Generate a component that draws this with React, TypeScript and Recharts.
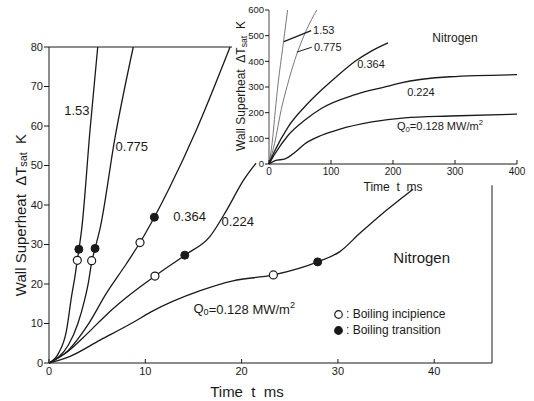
import React from 'react';
import { ComposedChart, Line, Scatter, XAxis, YAxis, ReferenceLine, ReferenceDot, Legend } from 'recharts';

const FONT = '"Liberation Sans", Arial, sans-serif';
const INK = '#1a1a1a';

// main plot: wall superheat (K) against time (ms), one curve per heat flux Q0 (MW/m2)
const main153 = [[0, 0], [1, 2.5], [1.8, 8], [2.35, 17], [2.7, 22], [2.94, 26], [3.1, 28.6], [3.4, 34], [4.26, 59], [5.06, 80]];
const main775 = [[0, 0], [1, 1.5], [2, 4.5], [3, 10], [3.7, 16], [4.1, 20.5], [4.43, 25.5], [4.78, 29], [5.3, 34], [6.85, 57], [8.75, 80]];
const main364 = [[0, 0], [2, 3.2], [4, 9.5], [6, 17.8], [8, 25], [9.45, 30.5], [10.94, 36.9], [12.56, 44.6], [15.3, 59], [18.8, 80]];
const main224 = [[0, 0], [2, 3], [4, 7.5], [6, 12.3], [8, 16.5], [11, 22], [14.1, 27.3], [16.7, 32], [18.45, 38.7], [20.2, 46.3], [21.5, 50.6]];
const main128 = [[0, 0], [2, 1.5], [5.3, 5.8], [8.9, 10.5], [10.5, 12.8], [15.7, 18.3], [19.1, 20.8], [23.3, 22.3], [27.9, 25.6], [30.2, 28.2], [32.3, 32.9], [34.7, 38], [36.4, 41.3], [37.8, 44]];

const incipience = [[2.94, 26], [4.43, 25.9], [9.45, 30.5], [11, 22], [23.3, 22.3]];
const transition = [[3.1, 28.8], [4.78, 29], [10.94, 36.9], [14.1, 27.3], [27.9, 25.6]];

const mainXTicks = [0, 10, 20, 30, 40];
const mainYTicks = [0, 10, 20, 30, 40, 50, 60, 70, 80];

// inset: same runs over a longer time
const inset153 = [[0, 0], [5, 80], [10, 205], [15, 320], [22, 450], [30, 600]];
const inset775 = [[0, 0], [9, 80], [20, 215], [30, 310], [42, 408], [60, 520], [77, 600]];
const inset364 = [[0, 0], [9.7, 53], [31, 145], [58, 224], [85, 289], [112, 347], [139, 400], [165, 440], [192, 472]];
const inset224 = [[0, 0], [9.7, 40], [31, 112], [58, 171], [85, 217], [139, 270], [192, 303], [211, 315], [292, 340], [400, 348]];
const inset128 = [[0, 0], [9.7, 13], [26, 20], [42, 46], [58, 79], [85, 112], [112, 134], [166, 164], [219, 180], [292, 187], [400, 194]];

const insetXTicks = [0, 100, 200, 300, 400];
const insetYTicks = [0, 100, 200, 300, 400, 500, 600];

const keyNames = ['Boiling incipience', 'Boiling transition'];

const pts = (a: number[][]) => a.map(([t, v]) => ({ t, v }));

const BottomTick = ({ x, y, payload, fs }: any) => (
  <g>
    <line x1={x} x2={x} y1={y} y2={y - 4} stroke={INK} />
    <text x={x} y={y + 3} dy="0.8em" textAnchor="middle" fontSize={fs} fill={INK} fontFamily={FONT}>
      {payload.value}
    </text>
  </g>
);

const RightTick = ({ x, y }: any) => <line x1={x - 4} x2={x} y1={y} y2={y} stroke={INK} />;

const YTitle = ({ cx, cy, fs }: any) => (
  <text x={cx} y={cy} transform={`rotate(-90 ${cx} ${cy})`} textAnchor="middle" dominantBaseline="central"
    fontSize={fs} fill={INK} fontFamily={FONT}>
    Wall Superheat{'\u00A0\u00A0'}ΔT<tspan fontSize={fs * 0.72} dy={3}>sat</tspan>
    <tspan dy={-3}>{'\u00A0\u00A0'}K</tspan>
  </text>
);

const XTitle = ({ cx, cy, fs }: any) => (
  <text x={cx} y={cy} textAnchor="middle" dominantBaseline="central" fontSize={fs} fill={INK} fontFamily={FONT}>
    {'Time\u00A0\u00A0t\u00A0\u00A0ms'}
  </text>
);

const note = (content: React.ReactNode, fs: number, anchor = 'middle') => (p: any) => (
  <text x={p.cx} y={p.cy} textAnchor={anchor} dominantBaseline="central" fontSize={fs} fill={INK} fontFamily={FONT}>
    {content}
  </text>
);

const fluxLabel = (fs: number) => (
  <>
    Q<tspan fontSize={fs * 0.7} dy={3}>0</tspan>
    <tspan dy={-3}>=0.128 MW/m</tspan>
    <tspan fontSize={fs * 0.7} dy={-4}>2</tspan>
  </>
);

const BoilingKey = ({ payload }: any) => (
  <div style={{ fontFamily: FONT, fontSize: 12, color: INK, lineHeight: '16px' }}>
    {(payload || []).filter((e: any) => keyNames.includes(e.value)).map((e: any) => (
      <div key={e.value} style={{ display: 'flex', alignItems: 'center' }}>
        <svg width={11} height={11} style={{ marginRight: 2 }}>
          <circle cx={5.5} cy={5.5} r={3.8} fill={e.color} stroke={INK} strokeWidth={1.2} />
        </svg>
        <span>: {e.value}</span>
      </div>
    ))}
  </div>
);

const mainCurves = [main153, main775, main364, main224, main128];
const insetCurves = [inset153, inset775, inset364, inset224, inset128];

export default function App() {
  return (
    <div style={{ position: 'absolute', left: 0, top: 0, width: 534, height: 401, background: '#fff' }}>
      <div style={{ position: 'absolute', left: 0, top: 0 }}>
        <ComposedChart width={534} height={401} margin={{ top: 47, right: 42, bottom: 8, left: 9 }}>
          <XAxis type="number" dataKey="t" domain={[0, 46]} ticks={mainXTicks} height={30}
            tickLine={false} tickSize={0} tickMargin={0} axisLine={{ stroke: INK, strokeWidth: 1.2 }}
            tick={(p: any) => <BottomTick {...p} fs={11} />}
            label={(p: any) => <XTitle cx={247} cy={p.viewBox.y + 28} fs={15} />} />
          <YAxis type="number" dataKey="v" domain={[0, 80]} ticks={mainYTicks} width={40}
            tickSize={5} tickMargin={1} tickLine={{ stroke: INK }} axisLine={{ stroke: INK }}
            tick={{ fontSize: 11, fill: INK, fontFamily: FONT }}
            label={(p: any) => <YTitle cx={p.viewBox.x + 11} cy={215} fs={15} />} />
          <YAxis yAxisId="r" orientation="right" type="number" domain={[0, 80]} ticks={[10, 20, 30, 40]} width={0}
            axisLine={false} tickLine={false} tickSize={0} tickMargin={0} tick={RightTick} />
          <ReferenceLine segment={[{ x: 0, y: 80 }, { x: 19, y: 80 }]} stroke={INK} strokeWidth={1.2} />
          <ReferenceLine segment={[{ x: 46, y: 0 }, { x: 46, y: 45 }]} stroke={INK} />
          {mainCurves.map((c, i) => (
            <Line key={i} data={pts(c)} dataKey="v" type="monotone" dot={false} stroke={INK}
              strokeWidth={1.3} legendType="none" isAnimationActive={false} />
          ))}
          <Scatter name="Boiling incipience" data={pts(incipience)} fill="#fff" isAnimationActive={false}
            shape={(p: any) => <circle cx={p.cx} cy={p.cy} r={4} fill="#fff" stroke={INK} strokeWidth={1.2} />} />
          <Scatter name="Boiling transition" data={pts(transition)} fill={INK} isAnimationActive={false}
            shape={(p: any) => <circle cx={p.cx} cy={p.cy} r={4} fill={INK} stroke={INK} strokeWidth={1} />} />
          <ReferenceDot x={2.9} y={64} shape={note('1.53', 13)} />
          <ReferenceDot x={8.6} y={54.7} shape={note('0.775', 13)} />
          <ReferenceDot x={14.6} y={37} shape={note('0.364', 13)} />
          <ReferenceDot x={19.6} y={35.7} shape={note('0.224', 13)} />
          <ReferenceDot x={15} y={13.7} shape={note(fluxLabel(13), 13, 'start')} />
          <ReferenceDot x={38.7} y={26.6} shape={note('Nitrogen', 15)} />
          <Legend layout="vertical" align="center" verticalAlign="middle" content={BoilingKey}
            wrapperStyle={{ left: 333, top: 306, width: 170, height: 34 }} />
        </ComposedChart>
      </div>

      <div style={{ position: 'absolute', left: 0, top: 0 }}>
        <ComposedChart width={534} height={200} margin={{ top: 10, right: 17, bottom: 10, left: 239 }}>
          <XAxis type="number" dataKey="t" domain={[0, 400]} ticks={insetXTicks} height={26}
            tickLine={false} tickSize={0} tickMargin={0} axisLine={{ stroke: INK }}
            tick={(p: any) => <BottomTick {...p} fs={10} />}
            label={(p: any) => <XTitle cx={p.viewBox.x + p.viewBox.width / 2} cy={p.viewBox.y + 23} fs={12} />} />
          <XAxis xAxisId="top" orientation="top" type="number" domain={[0, 400]} height={0}
            tick={false} tickLine={false} axisLine={{ stroke: INK }} />
          <YAxis type="number" dataKey="v" domain={[0, 600]} ticks={insetYTicks} width={30}
            tickSize={4} tickMargin={1} tickLine={{ stroke: INK }} axisLine={{ stroke: INK, strokeWidth: 0.8 }}
            tick={{ fontSize: 9.5, fill: INK, fontFamily: FONT }}
            label={(p: any) => <YTitle cx={p.viewBox.x + 2} cy={86} fs={12} />} />
          <YAxis yAxisId="r" orientation="right" type="number" domain={[0, 600]} ticks={[100, 200, 300, 400, 500]} width={0}
            axisLine={{ stroke: INK }} tickLine={false} tickSize={0} tickMargin={0} tick={RightTick} />
          {insetCurves.map((c, i) => (
            <Line key={i} data={pts(c)} dataKey="v" type="monotone" dot={false} stroke={i < 2 ? '#555' : INK}
              strokeWidth={i < 2 ? 0.8 : 1.3} isAnimationActive={false} />
          ))}
          <ReferenceLine segment={[{ x: 24, y: 477 }, { x: 68, y: 520 }]} stroke={INK} strokeWidth={1.3} />
          <ReferenceLine segment={[{ x: 45, y: 436 }, { x: 69, y: 455 }]} stroke={INK} />
          <ReferenceDot x={71} y={522} shape={note('1.53', 11, 'start')} />
          <ReferenceDot x={72.6} y={455} shape={note('0.775', 11, 'start')} />
          <ReferenceDot x={164.5} y={389} shape={note('0.364', 11)} />
          <ReferenceDot x={245} y={280} shape={note('0.224', 11)} />
          <ReferenceDot x={206.5} y={147} shape={note(fluxLabel(11), 11, 'start')} />
          <ReferenceDot x={300} y={490} shape={note('Nitrogen', 12)} />
        </ComposedChart>
      </div>
    </div>
  );
}
